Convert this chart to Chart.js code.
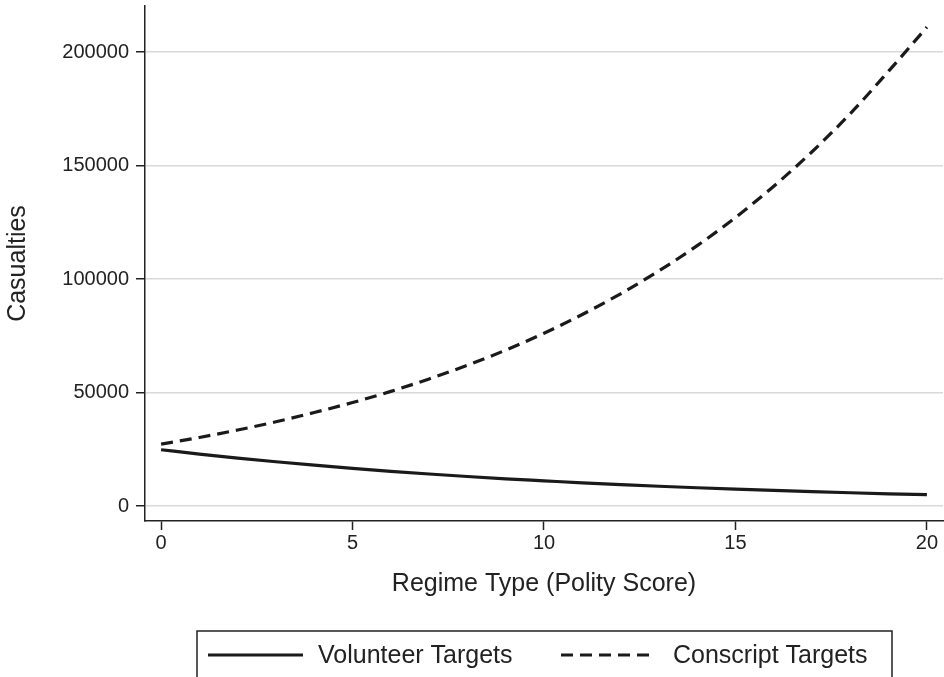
<!DOCTYPE html>
<html>
<head>
    <title>Casualties by Regime Type</title>
    <script src="https://cdn.jsdelivr.net/npm/chart.js"></script>
    <style>
        body {
            margin: 0;
            background-color: #fff;
        }
        canvas {
            display: block;
        }
    </style>
</head>
<body>
    <canvas id="casualtyChart" width="944" height="677"></canvas>

    <script>
        // Values
        var polityScores = [0, 1, 2, 3, 4, 5, 6, 7, 8, 9, 10, 11, 12, 13, 14, 15, 16, 17, 18, 19, 20];
        var volunteerCasualties = [24800, 22900, 21100, 19500, 18000, 16600, 15300, 14100, 13000, 12000,
                                   11100, 10200, 9450, 8720, 8050, 7430, 6860, 6330, 5840, 5390, 4980];
        var conscriptCasualties = [27300, 30200, 33500, 37100, 41200, 45600, 50500, 56000, 62000, 68700,
                                   76100, 84400, 93500, 103600, 114700, 127100, 140900, 156100, 172900, 191600, 211000];
        var xTicks = [0, 5, 10, 15, 20];
        var yTicks = [0, 50000, 100000, 150000, 200000];

        var fontFamily = '"Liberation Sans", Arial, sans-serif';
        var inkColor = '#222';

        function toPoints(values) {
            return polityScores.map(function(x, i) {
                return { x: x, y: values[i] };
            });
        }

        // Boxed legend under the axis title
        var boxedLegend = {
            id: 'boxedLegend',
            afterDraw: function(chart) {
                var ctx = chart.ctx;
                var sets = chart.data.datasets;
                var lineStarts = [208, 561];
                var textStarts = [318, 673];
                ctx.save();
                ctx.strokeStyle = inkColor;
                ctx.lineWidth = 1.5;
                ctx.strokeRect(197, 631, 695, 70);

                sets.forEach(function(ds, i) {
                    ctx.beginPath();
                    ctx.setLineDash(ds.borderDash || []);
                    ctx.lineWidth = ds.borderWidth;
                    ctx.strokeStyle = ds.borderColor;
                    ctx.moveTo(lineStarts[i], 655);
                    ctx.lineTo(lineStarts[i] + 95, 655);
                    ctx.stroke();
                    ctx.setLineDash([]);

                    ctx.fillStyle = inkColor;
                    ctx.font = '25px ' + fontFamily;
                    ctx.textBaseline = 'alphabetic';
                    ctx.textAlign = 'left';
                    ctx.fillText(ds.label, textStarts[i], 663);
                });
                ctx.restore();
            }
        };

        var ctx = document.getElementById('casualtyChart').getContext('2d');

        var casualtyChart = new Chart(ctx, {
            type: 'line',
            data: {
                datasets: [{
                    label: 'Volunteer Targets',
                    data: toPoints(volunteerCasualties),
                    borderColor: '#1a1a1a',
                    borderWidth: 3.2,
                    pointRadius: 0,
                    fill: false,
                    cubicInterpolationMode: 'monotone'
                }, {
                    label: 'Conscript Targets',
                    data: toPoints(conscriptCasualties),
                    borderColor: '#1a1a1a',
                    borderWidth: 3.2,
                    borderDash: [12, 7],
                    pointRadius: 0,
                    fill: false,
                    cubicInterpolationMode: 'monotone'
                }]
            },
            options: {
                responsive: false,
                animation: false,
                devicePixelRatio: 1,
                layout: {
                    padding: { left: 0, top: 6, right: 1, bottom: 0 }
                },
                plugins: {
                    legend: { display: false },
                    tooltip: { enabled: false }
                },
                scales: {
                    x: {
                        type: 'linear',
                        min: -0.42,
                        max: 20.42,
                        afterBuildTicks: function(scale) {
                            scale.ticks = xTicks.map(function(v) { return { value: v }; });
                        },
                        afterFit: function(scale) {
                            scale.height = 156;
                            scale.paddingLeft = 0;
                            scale.paddingRight = 0;
                        },
                        grid: {
                            drawOnChartArea: false,
                            drawTicks: true,
                            tickLength: 9,
                            tickColor: inkColor,
                            tickWidth: 1.5
                        },
                        border: {
                            display: true,
                            color: inkColor,
                            width: 1.5
                        },
                        ticks: {
                            color: inkColor,
                            padding: 1,
                            maxRotation: 0,
                            font: { family: fontFamily, size: 20 }
                        },
                        title: {
                            display: true,
                            text: 'Regime Type (Polity Score)',
                            color: inkColor,
                            padding: { top: 0, bottom: 78 },
                            font: { family: fontFamily, size: 25 }
                        }
                    },
                    y: {
                        min: -6600,
                        max: 220300,
                        afterBuildTicks: function(scale) {
                            scale.ticks = yTicks.map(function(v) { return { value: v }; });
                        },
                        afterFit: function(scale) {
                            scale.width = 145;
                            scale.paddingTop = 0;
                            scale.paddingBottom = 0;
                        },
                        grid: {
                            color: '#d9d9d9',
                            lineWidth: 1.5,
                            drawTicks: true,
                            tickLength: 9,
                            tickColor: inkColor,
                            tickWidth: 1.5
                        },
                        border: {
                            display: true,
                            color: inkColor,
                            width: 1.5
                        },
                        ticks: {
                            color: inkColor,
                            padding: 7,
                            font: { family: fontFamily, size: 20 },
                            callback: function(value) { return String(value); }
                        },
                        title: {
                            display: true,
                            text: 'Casualties',
                            color: inkColor,
                            padding: { top: 3, bottom: 0 },
                            font: { family: fontFamily, size: 25 }
                        }
                    }
                }
            },
            plugins: [boxedLegend]
        });
    </script>
</body>
</html>
